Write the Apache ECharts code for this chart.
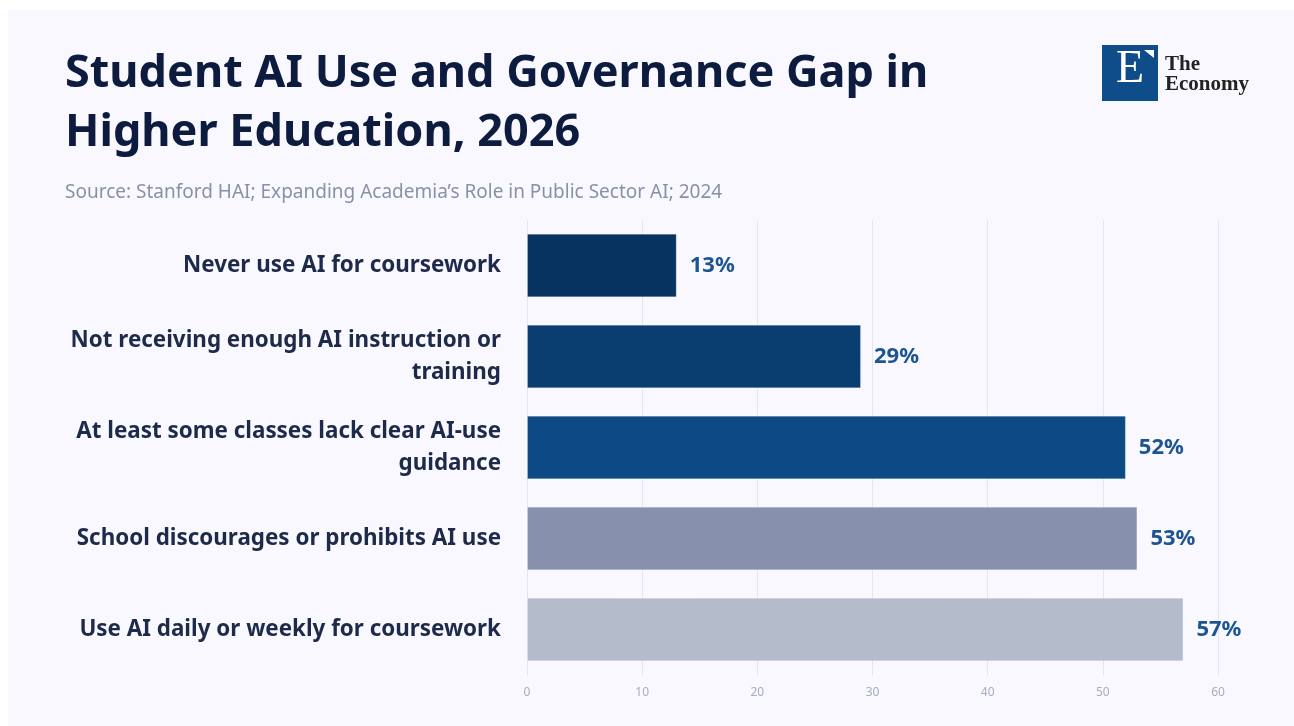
<!DOCTYPE html>
<html>
<head>
<meta charset="utf-8">
<script src="https://cdn.jsdelivr.net/npm/echarts@6/dist/echarts.min.js"></script>
<style>
html,body{margin:0;padding:0;background:#ffffff;}
#chart{width:1294px;height:726px;}
</style>
</head>
<body>
<div id="chart"></div>
<script>
const categories = [
  "Never use AI for coursework",
  "Not receiving enough AI instruction or training",
  "At least some classes lack clear AI-use guidance",
  "School discourages or prohibits AI use",
  "Use AI daily or weekly for coursework"
];
const values = [13, 29, 52, 53, 57];
const barColors = ["#06335f", "#0a3d70", "#0d4a85", "#8791ae", "#b4bbcb"];
const xTicks = [0, 10, 20, 30, 40, 50, 60];

const titleText = "Student AI Use and Governance Gap in\nHigher Education, 2026";
const sourceText = "Source: Stanford HAI; Expanding Academia\u2019s Role in Public Sector AI; 2024";

const labelFont = 'bold 22.4px "Noto Sans", sans-serif';
const measureCtx = document.createElement('canvas').getContext('2d');
function wrapLabel(text, maxW) {
  measureCtx.font = labelFont;
  const words = text.split(' ');
  const lines = [];
  let cur = '';
  for (const w of words) {
    const t = cur ? cur + ' ' + w : w;
    if (cur && measureCtx.measureText(t).width > maxW) { lines.push(cur); cur = w; }
    else cur = t;
  }
  if (cur) lines.push(cur);
  return lines.join('\n');
}

const chart = echarts.init(document.getElementById('chart'), null, {renderer: 'canvas'});
const option = {
  backgroundColor: '#ffffff',
  animation: false,
  graphic: [
    {type: 'rect', left: 8, top: 10, shape: {width: 1286, height: 716}, style: {fill: '#f8f8fe'}, z: -10},
    {type: 'rect', left: 1102, top: 45, shape: {width: 56, height: 56}, style: {fill: '#0f4c8a'}},
    {type: 'polygon', shape: {points: [[1144, 50], [1154, 50], [1154, 58]]}, style: {fill: '#ffffff'}},
    {type: 'text', left: 1116, top: 47, style: {text: 'E', fill: '#ffffff', font: '46px "Liberation Serif", "DejaVu Serif", serif'}},
    {type: 'text', left: 1165, top: 54, style: {text: 'The\nEconomy', fill: '#222222', lineHeight: 20, font: 'bold 21px "Liberation Serif", "DejaVu Serif", serif'}}
  ],
  title: [
    {
      text: titleText,
      left: 65, top: 45, padding: 0,
      textStyle: {fontFamily: '"Noto Sans", sans-serif', fontWeight: 'bold', fontSize: 45, lineHeight: 59, color: '#0d1b3e'}
    },
    {
      text: sourceText,
      left: 65, top: 183, padding: 0,
      textStyle: {fontFamily: '"Noto Sans", sans-serif', fontWeight: 'normal', fontSize: 19, color: '#8a90a8'}
    }
  ],
  grid: {left: 527, top: 220, width: 691, height: 455, containLabel: false},
  xAxis: {
    type: 'value', min: 0, max: 60, interval: 10,
    axisLine: {show: false}, axisTick: {show: false},
    splitLine: {show: true, lineStyle: {color: '#e4e6ee', width: 1}},
    axisLabel: {color: '#a6adbf', fontSize: 12, margin: 12, fontFamily: '"Noto Sans", sans-serif',
      formatter: v => xTicks.includes(v) ? String(v) : ''}
  },
  yAxis: {
    type: 'category', data: categories, inverse: true,
    axisLine: {show: false}, axisTick: {show: false},
    axisLabel: {
      margin: 26, color: '#1e2a4a', fontSize: 22.4, fontWeight: 'bold', lineHeight: 32,
      fontFamily: '"Noto Sans", sans-serif', align: 'right',
      formatter: v => wrapLabel(v, 440)
    }
  },
  series: [{
    type: 'bar',
    data: values.map((v, i) => ({value: v, itemStyle: {color: barColors[i]}})),
    barCategoryGap: '30%',
    itemStyle: {borderColor: 'rgba(255,255,255,0.25)', borderWidth: 1},
    label: {
      show: true, position: 'right', distance: 13, formatter: '{c}%',
      color: '#1d5594', fontSize: 22, fontWeight: 'bold', fontFamily: '"Noto Sans", sans-serif'
    }
  }]
};
chart.setOption(option);
</script>
</body>
</html>
